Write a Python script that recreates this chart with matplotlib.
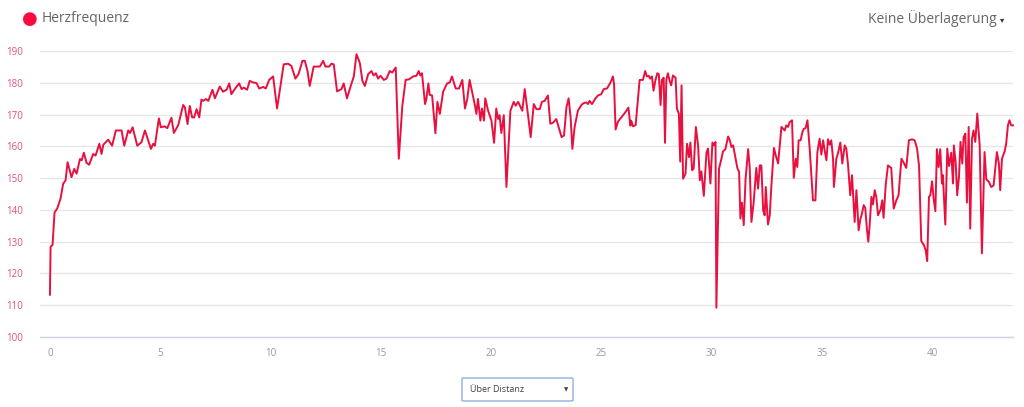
import matplotlib
matplotlib.use("Agg")
import matplotlib.pyplot as plt
from matplotlib.patches import FancyBboxPatch

distance_km = [
    0.00, 0.03, 0.12, 0.21, 0.33, 0.48, 0.60, 0.71, 0.80, 0.98, 1.10, 1.21, 1.36, 1.44, 1.54, 1.66,
    1.78, 1.96, 2.07, 2.24, 2.34, 2.42, 2.64, 2.82, 2.99, 3.25, 3.37, 3.55, 3.63, 3.75, 3.96, 4.15,
    4.31, 4.58, 4.68, 4.76, 4.94, 5.03, 5.21, 5.32, 5.51, 5.62, 5.82, 6.04, 6.12, 6.24, 6.34, 6.45,
    6.54, 6.65, 6.77, 6.87, 6.95, 7.07, 7.18, 7.37, 7.48, 7.70, 7.85, 8.01, 8.13, 8.23, 8.38, 8.58,
    8.69, 8.79, 8.94, 9.06, 9.21, 9.37, 9.49, 9.67, 9.79, 9.94, 10.12, 10.30, 10.60, 10.80, 10.95,
    11.13, 11.27, 11.45, 11.56, 11.68, 11.78, 11.96, 12.24, 12.39, 12.49, 12.66, 12.76, 12.87, 13.02,
    13.22, 13.32, 13.47, 13.64, 13.78, 13.90,
    14.05, 14.17, 14.28, 14.43, 14.58, 14.68, 14.78, 14.88, 14.99, 15.14, 15.26, 15.41, 15.52, 15.68,
    15.82, 15.98, 16.13, 16.29, 16.47, 16.62, 16.72, 16.80, 16.87, 17.01, 17.07, 17.16, 17.22, 17.33,
    17.48, 17.57, 17.68, 17.83, 18.01, 18.13, 18.23, 18.40, 18.55, 18.70, 18.82, 18.93, 19.03, 19.26,
    19.34, 19.41, 19.52, 19.59, 19.68, 19.74, 19.87, 20.02, 20.14, 20.24, 20.32, 20.39, 20.47, 20.58,
    20.70, 20.88, 21.03, 21.12, 21.23, 21.42, 21.53, 21.68, 21.80, 21.94, 22.06, 22.21, 22.31, 22.43,
    22.58, 22.69, 22.81, 22.96, 23.20, 23.31, 23.42, 23.52, 23.61, 23.69, 23.79, 23.94, 24.10, 24.20,
    24.32, 24.40, 24.47, 24.58, 24.74, 24.85, 25.00, 25.11, 25.26, 25.38, 25.45, 25.53, 25.58, 25.65,
    25.76, 25.91, 26.09, 26.23, 26.32, 26.36, 26.44, 26.56, 26.74, 26.89, 26.99, 27.07, 27.15, 27.22,
    27.30, 27.37, 27.45, 27.54, 27.61, 27.69, 27.75, 27.83, 27.89, 27.95, 28.02, 28.10, 28.17, 28.25,
    28.37, 28.43, 28.52, 28.58,
    28.64, 28.71, 28.82, 28.89, 28.98, 29.04, 29.12, 29.19, 29.29, 29.39, 29.47, 29.54, 29.65, 29.77,
    29.84, 29.95, 30.04, 30.12, 30.18, 30.22, 30.34, 30.45, 30.52, 30.63, 30.75, 30.83, 30.90, 30.98,
    31.08, 31.17, 31.25, 31.31, 31.38, 31.46, 31.54, 31.66, 31.73, 31.81, 31.91, 32.03, 32.11, 32.19,
    32.26, 32.34, 32.41, 32.46, 32.56, 32.64, 32.71, 32.83, 32.91, 33.02, 33.17, 33.32, 33.39, 33.47,
    33.54, 33.65, 33.73, 33.82, 33.89, 33.95, 34.04, 34.12, 34.18, 34.27, 34.35, 34.45, 34.60, 34.71,
    34.80, 34.90, 34.98, 35.06, 35.13, 35.21, 35.28, 35.36, 35.43, 35.51, 35.55, 35.66, 35.74, 35.84,
    35.93, 36.04, 36.11, 36.19, 36.29, 36.37, 36.49, 36.57, 36.67, 36.75, 36.82, 36.90, 36.97, 37.05,
    37.11, 37.17, 37.25, 37.32, 37.40, 37.47, 37.55, 37.67, 37.74, 37.80, 37.90, 38.00, 38.15, 38.26,
    38.38, 38.48, 38.61, 38.71, 38.83, 38.95, 39.09, 39.21, 39.32, 39.41, 39.51, 39.63, 39.71, 39.78,
    39.86, 39.92, 40.00, 40.07, 40.15, 40.22, 40.30, 40.37, 40.45, 40.49, 40.60, 40.69, 40.77, 40.87,
    40.95, 40.99, 41.07, 41.14, 41.22, 41.29, 41.37, 41.43, 41.51, 41.58, 41.66, 41.73, 41.81, 41.88,
    41.96, 42.05, 42.16, 42.26, 42.38, 42.46, 42.58, 42.68, 42.79, 42.88, 42.94, 43.03, 43.09, 43.17,
    43.29, 43.36, 43.44, 43.51, 43.59, 43.67,
]

heart_rate = [
    113.3, 128.4, 129.0, 139.2, 140.4, 143.5, 148.2, 149.3, 155.0, 150.3, 152.9, 151.4, 156.0, 155.6, 158.0, 154.8,
    154.2, 157.6, 157.1, 160.8, 157.6, 160.5, 162.1, 160.2, 165.0, 165.0, 160.2, 165.0, 164.2, 166.0, 160.2, 161.3,
    165.0, 159.2, 160.8, 160.2, 168.8, 166.0, 166.3, 165.7, 169.0, 164.2, 166.7, 173.0, 172.3, 167.0, 172.7, 169.1,
    169.1, 171.7, 169.1, 174.7, 174.3, 174.9, 174.3, 177.8, 175.1, 178.8, 177.2, 177.8, 179.8, 176.4, 178.0, 179.8,
    178.0, 178.5, 177.8, 180.6, 180.1, 179.9, 178.2, 178.7, 178.2, 180.9, 182.0, 171.9, 185.8, 186.0, 185.3,
    181.3, 182.7, 186.9, 186.9, 183.7, 179.0, 185.1, 185.1, 186.9, 185.1, 185.1, 186.0, 185.8, 177.3,
    178.0, 179.8, 175.1, 179.0, 182.0, 189.0,
    186.3, 180.6, 179.0, 182.7, 183.7, 182.3, 183.0, 181.3, 182.2, 180.9, 181.3, 183.7, 183.2, 184.8,
    156.1, 172.8, 180.9, 181.1, 182.0, 182.2, 183.7, 182.3, 183.0, 173.3, 174.9, 179.8, 176.2, 176.0,
    164.1, 174.0, 170.2, 177.2, 179.8, 180.1, 182.0, 178.2, 178.2, 180.9, 171.9, 175.1, 180.9, 173.3,
    170.2, 174.9, 168.1, 171.9, 168.1, 175.1, 171.2, 168.1, 161.1, 171.9, 168.6, 169.8, 164.2, 169.8,
    147.2, 171.2, 174.0, 172.8, 174.0, 171.2, 178.0, 169.8, 162.9, 173.3, 171.7, 171.7, 174.0, 174.3,
    176.0, 167.1, 167.4, 168.6, 162.9, 163.4, 172.2, 175.1, 169.1, 159.2, 166.0, 171.2, 173.0, 173.6,
    173.8, 173.3, 174.3, 173.3, 175.1, 176.0, 176.4, 178.0, 178.2, 179.6, 180.6, 182.0, 179.6, 165.3,
    167.8, 169.1, 170.7, 172.2, 166.5, 168.1, 166.3, 166.7, 180.9, 180.9, 183.7, 182.0, 182.2, 181.3,
    182.0, 177.5, 180.6, 183.0, 182.7, 173.0, 180.9, 181.6, 161.1, 180.9, 183.0, 180.6, 179.2, 182.3,
    181.6, 171.9, 170.2, 155.2,
    179.2, 149.8, 151.4, 160.8, 156.6, 161.2, 152.5, 153.0, 166.1, 160.3, 149.3, 152.1, 144.4, 158.0,
    159.3, 148.3, 161.2, 160.3, 161.4, 109.2, 153.0, 156.1, 158.4, 159.1, 163.1, 161.9, 159.8, 160.3,
    156.6, 153.2, 151.9, 137.3, 142.3, 135.2, 149.3, 159.1, 153.5, 136.2, 142.3, 153.2, 146.7, 154.0,
    154.0, 139.9, 138.3, 147.2, 135.4, 138.3, 147.2, 159.5, 157.2, 154.6, 166.1, 165.0, 166.6, 166.1,
    167.6, 168.2, 150.1, 156.1, 153.5, 161.9, 161.9, 164.5, 165.5, 165.8, 168.2, 159.3, 143.0, 143.0,
    158.2, 162.4, 157.4, 161.9, 158.7, 155.6, 162.2, 160.5, 161.9, 156.1, 147.2, 156.1, 158.0, 161.2,
    154.6, 160.3, 159.3, 154.2, 144.6, 150.9, 136.2, 146.2, 133.6, 137.1, 138.8, 141.5, 140.6, 133.6,
    130.0, 135.2, 144.1, 141.7, 146.2, 144.1, 138.3, 140.2, 143.0, 137.5, 148.0, 154.0, 153.2, 140.4,
    143.0, 144.6, 156.1, 154.9, 153.2, 161.9, 162.2, 161.9, 159.3, 153.8, 130.2, 128.9, 127.3, 123.9,
    144.1, 144.6, 149.0, 143.6, 139.6, 159.1, 153.5, 159.1, 148.3, 150.9, 135.4, 159.3, 153.8, 158.0,
    148.3, 160.3, 154.9, 144.6, 150.4, 161.4, 154.6, 162.9, 164.0, 142.3, 166.1, 134.1, 162.4, 165.0,
    161.4, 170.3, 160.3, 126.3, 158.2, 149.6, 148.8, 147.2, 147.7, 154.0, 158.2, 154.6, 146.2, 156.1,
    158.4, 160.8, 166.6, 168.2, 166.6, 166.6,
]

y_ticks = [100, 110, 120, 130, 140, 150, 160, 170, 180, 190]
x_ticks = [0, 5, 10, 15, 20, 25, 30, 35, 40]

W, H = 1024, 407
fig = plt.figure(figsize=(W / 100, H / 100), dpi=100)
fig.patch.set_facecolor("white")

left_px, right_px, top_px, bottom_px = 40, 1013, 51, 337
ax = fig.add_axes([left_px / W, 1 - bottom_px / H, (right_px - left_px) / W, (bottom_px - top_px) / H])

line_color = "#e8103f"
ax.plot(distance_km, heart_rate, color=line_color, lw=1.4, solid_joinstyle="round", clip_on=False, zorder=3)

ax.set_xlim(-0.45, 43.67)
ax.set_ylim(100, 190)
ax.set_yticks(y_ticks)
ax.set_xticks(x_ticks)

for s in ["top", "right", "left"]:
    ax.spines[s].set_visible(False)
ax.spines["bottom"].set_color("#ccd6eb")
ax.spines["bottom"].set_linewidth(1.0)

ax.grid(axis="y", color="#e6e6e6", lw=1.0)
ax.set_axisbelow(True)

ax.tick_params(axis="y", length=0, pad=12, labelsize=7, labelcolor="#e0507e")
ax.tick_params(axis="x", length=0, pad=8, labelsize=7, labelcolor="#999999")
for lab in ax.get_xticklabels() + ax.get_yticklabels():
    lab.set_family(["Open Sans", "DejaVu Sans"])

# legend
fig.text(30 / W, 1 - 18.5 / H, "\u25CF", color="#ff0a3c", fontsize=13, ha="center", va="center",
         family=["DejaVu Sans"])
fig.text(42 / W, 1 - 18.5 / H, "Herzfrequenz", color="#666666", fontsize=10, ha="left", va="center",
         family=["Open Sans", "DejaVu Sans"])

fig.text(997 / W, 1 - 18.5 / H, "Keine Überlagerung", color="#666666", fontsize=10, ha="right", va="center",
         family=["Open Sans", "DejaVu Sans"])
fig.text(1000 / W, 1 - 20 / H, "\u25BE", color="#333333", fontsize=6, ha="left", va="center",
         family=["DejaVu Sans"])

# dropdown box
box = FancyBboxPatch((462 / W, 1 - 401 / H), (573 - 462) / W, (401 - 378) / H,
                     boxstyle="round,pad=0,rounding_size=0.002", transform=fig.transFigure,
                     facecolor="white", edgecolor="#8fb0d8", lw=1.0)
fig.patches.append(box)
fig.text(470 / W, 1 - 390 / H, "Über Distanz", color="#444444", fontsize=6.5, ha="left", va="center",
         family=["Open Sans", "DejaVu Sans"])
fig.text(566 / W, 1 - 389.5 / H, "\u25BC", color="#444444", fontsize=4, ha="center", va="center",
         family=["DejaVu Sans"])

fig.savefig("out.png", dpi=100, facecolor="white")
